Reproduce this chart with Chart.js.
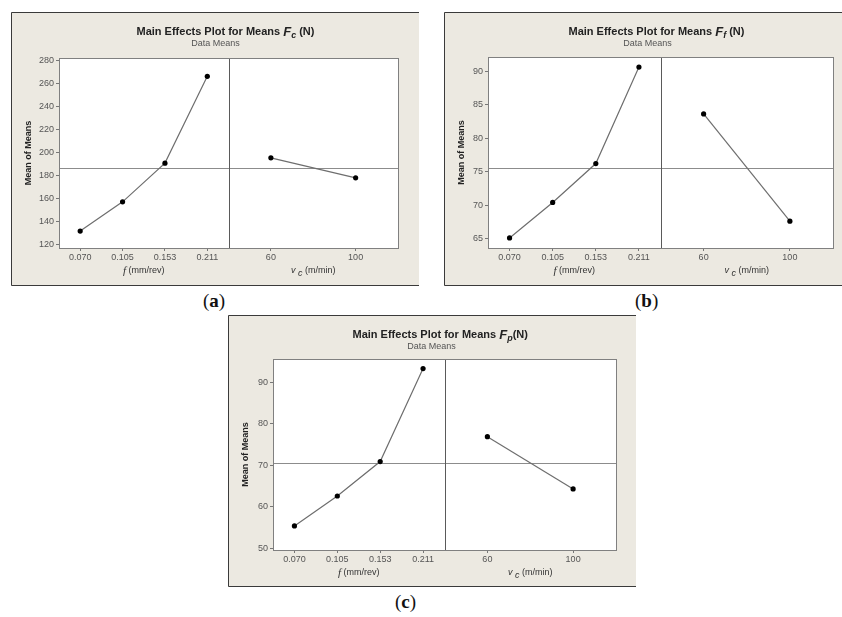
<!DOCTYPE html>
<html>
<head>
<meta charset="utf-8">
<script src="https://cdn.jsdelivr.net/npm/chart.js@4.4.1/dist/chart.umd.min.js"></script>
<style>
  body { margin: 0; background: #fff; width: 842px; height: 617px; position: relative; overflow: hidden; }
  .panel { position: absolute; }
  .lbl { position: absolute; font-family: 'Liberation Serif', serif; font-size: 19px; color: #111; }
  .lbl b { font-weight: bold; }
</style>
</head>
<body>
<div class="panel" style="left:11px;top:12px;width:408px;height:274px"><canvas id="chartA"></canvas></div>
<div class="panel" style="left:444px;top:12px;width:398px;height:274px"><canvas id="chartB"></canvas></div>
<div class="panel" style="left:228px;top:315px;width:408px;height:272px"><canvas id="chartC"></canvas></div>
<div class="lbl" style="left:203px;top:290px">(<b>a</b>)</div>
<div class="lbl" style="left:635px;top:290px">(<b>b</b>)</div>
<div class="lbl" style="left:395px;top:591px">(<b>c</b>)</div>
<script>
// factor levels
const fLevels = ['0.070', '0.105', '0.153', '0.211'];
const vcLevels = ['60', '100'];

// means
const fcByF = [131.7, 157.1, 190.7, 266.1];
const fcByVc = [195.3, 177.9];
const ffByF = [65.1, 70.4, 76.2, 90.6];
const ffByVc = [83.6, 67.6];
const fpByF = [55.4, 62.6, 70.9, 93.3];
const fpByVc = [76.9, 64.3];

// y tick labels
const fcTicks = [120, 140, 160, 180, 200, 220, 240, 260, 280];
const ffTicks = [65, 70, 75, 80, 85, 90];
const fpTicks = [50, 60, 70, 80, 90];

const FONT = "'Liberation Sans', Arial, sans-serif";
const mean = arr => arr.reduce((s, v) => s + v, 0) / arr.length;

function drawRuns(ctx, runs, x, y, center) {
  let w = 0;
  runs.forEach(r => { ctx.font = r.f; r.w = ctx.measureText(r.t).width; w += r.w; });
  let cx = center ? x - w / 2 : x;
  runs.forEach(r => {
    ctx.font = r.f;
    ctx.fillStyle = r.c || '#222';
    ctx.fillText(r.t, cx, y + (r.dy || 0));
    cx += r.w;
  });
}

const panelPlugin = {
  id: 'panel',
  beforeDraw(chart, args, opts) {
    const { ctx, width, height, chartArea: a } = chart;
    ctx.save();
    ctx.fillStyle = '#ece9e1';
    ctx.fillRect(0, 0, width, height);
    ctx.strokeStyle = '#3a3a3a';
    ctx.lineWidth = 1;
    ctx.beginPath();
    ctx.moveTo(width, 0.5); ctx.lineTo(0.5, 0.5); ctx.lineTo(0.5, height - 0.5); ctx.lineTo(width, height - 0.5);
    ctx.stroke();
    ctx.fillStyle = '#fff';
    ctx.fillRect(a.left, a.top, a.right - a.left, a.bottom - a.top);
    ctx.restore();
  },
  beforeDatasetsDraw(chart, args, opts) {
    const { ctx, chartArea: a, scales } = chart;
    ctx.save();
    ctx.lineWidth = 1;
    // grand mean
    const ym = Math.round(scales.y.getPixelForValue(opts.mean)) + 0.5;
    ctx.strokeStyle = '#8c8c8c';
    ctx.beginPath(); ctx.moveTo(a.left, ym); ctx.lineTo(a.right, ym); ctx.stroke();
    // divider between factors
    const xd = Math.round(scales.xv.left) + 0.5;
    ctx.strokeStyle = '#5a5a5a';
    ctx.beginPath(); ctx.moveTo(xd, a.top); ctx.lineTo(xd, a.bottom); ctx.stroke();
    // frame
    ctx.strokeStyle = '#808080';
    ctx.strokeRect(Math.round(a.left) + 0.5, Math.round(a.top) + 0.5,
      Math.round(a.right - a.left), Math.round(a.bottom - a.top));
    ctx.restore();
  },
  afterDraw(chart, args, opts) {
    const { ctx, chartArea: a, scales } = chart;
    const cx = (a.left + a.right) / 2;
    ctx.save();
    ctx.textBaseline = 'middle';
    ctx.textAlign = 'left';
    drawRuns(ctx, [
      { t: 'Main Effects Plot for Means ', f: 'bold 11px ' + FONT },
      { t: 'F', f: 'italic bold 13px ' + FONT },
      { t: opts.sub, f: 'italic bold 9px ' + FONT, dy: 4 },
      { t: opts.unit, f: 'bold 11px ' + FONT }
    ], cx - 92, 20, false);
    drawRuns(ctx, [{ t: 'Data Means', f: '9px ' + FONT, c: '#555' }], cx - 13, 32, true);
    const yt = a.bottom + 23;
    drawRuns(ctx, [
      { t: 'f', f: "italic 11px 'Liberation Serif', serif", c: '#333' },
      { t: ' (mm/rev)', f: '9px ' + FONT, c: '#333' }
    ], (scales.x.left + scales.x.right) / 2, yt, true);
    drawRuns(ctx, [
      { t: 'v', f: 'italic 9px ' + FONT, c: '#333', dy: -1 },
      { t: ' c', f: 'italic 9px ' + FONT, c: '#333', dy: 2 },
      { t: ' (m/min)', f: '9px ' + FONT, c: '#333' }
    ], (scales.xv.left + scales.xv.right) / 2, yt, true);
    ctx.restore();
  }
};

function makePanel(id, byF, byVc, ticks, yMin, yMax, sub, unit, pad) {
  const tickFont = { family: FONT, size: 9 };
  new Chart(document.getElementById(id), {
    type: 'line',
    data: {
      datasets: [
        { data: byF, xAxisID: 'x', yAxisID: 'y' },
        { data: byVc, xAxisID: 'xv', yAxisID: 'y' }
      ]
    },
    options: {
      responsive: true,
      maintainAspectRatio: false,
      animation: false,
      layout: { padding: { left: 0, top: pad.top, right: pad.right, bottom: 0 } },
      elements: {
        line: { borderColor: '#6e6e6e', borderWidth: 1.2, tension: 0 },
        point: { radius: 2.6, backgroundColor: '#000', borderWidth: 0 }
      },
      plugins: {
        legend: { display: false },
        tooltip: { enabled: false },
        panel: { mean: mean(byF), sub: sub, unit: unit }
      },
      scales: {
        x: {
          type: 'category', labels: fLevels, offset: true, position: 'bottom',
          stack: 'f', stackWeight: 1,
          grid: { drawOnChartArea: false, tickLength: 3, color: '#777' },
          border: { color: '#808080' },
          ticks: { font: tickFont, color: '#555', padding: 1, maxRotation: 0, autoSkip: false },
          afterFit: s => { s.height = pad.bottom; }
        },
        xv: {
          type: 'category', labels: vcLevels, offset: true, position: 'bottom',
          stack: 'f', stackWeight: 1,
          grid: { drawOnChartArea: false, tickLength: 3, color: '#777' },
          border: { color: '#808080' },
          ticks: { font: tickFont, color: '#555', padding: 1, maxRotation: 0, autoSkip: false },
          afterFit: s => { s.height = pad.bottom; }
        },
        y: {
          type: 'linear', min: yMin, max: yMax,
          grid: { drawOnChartArea: false, tickLength: 3, color: '#777' },
          border: { color: '#808080' },
          ticks: { font: tickFont, color: '#555', padding: 2 },
          afterBuildTicks: s => { s.ticks = ticks.map(v => ({ value: v })); },
          title: {
            display: true, text: 'Mean of Means', color: '#222',
            font: { family: FONT, size: 9, weight: 'bold' }, padding: { top: 12, bottom: 0 }
          },
          afterFit: s => { s.width = pad.left; }
        }
      }
    },
    plugins: [panelPlugin]
  });
}

makePanel('chartA', fcByF, fcByVc, fcTicks, 117, 282, 'c', ' (N)', { left: 48, top: 46, right: 21, bottom: 38 });
makePanel('chartB', ffByF, ffByVc, ffTicks, 63.6, 92.1, 'f', ' (N)', { left: 44, top: 45, right: 9, bottom: 38 });
makePanel('chartC', fpByF, fpByVc, fpTicks, 49.6, 95.6, 'p', '(N)', { left: 45, top: 44, right: 20, bottom: 37 });
</script>
</body>
</html>
